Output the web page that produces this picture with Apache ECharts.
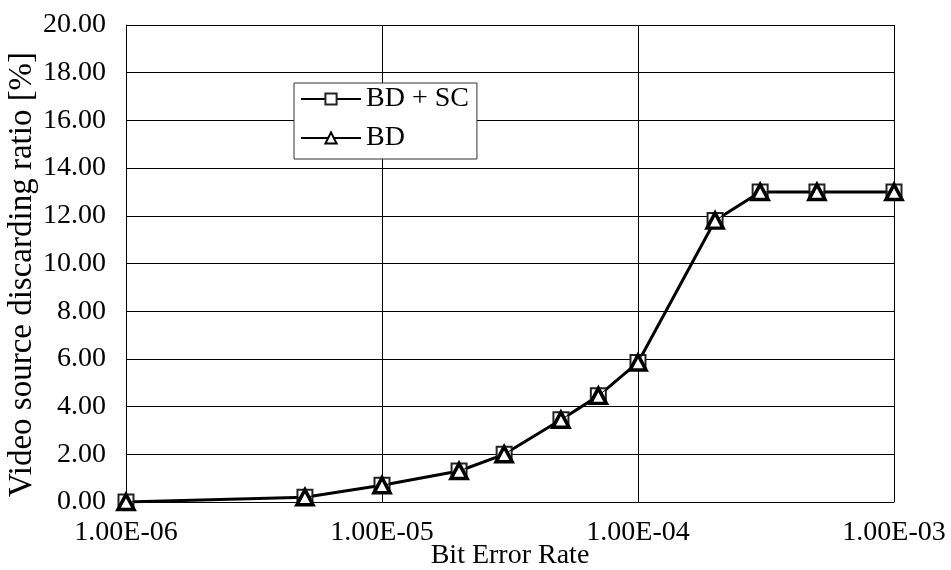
<!DOCTYPE html>
<html>
<head>
<meta charset="utf-8">
<script src="https://cdn.jsdelivr.net/npm/echarts@6/dist/echarts.min.js"></script>
<style>
  html, body { margin: 0; padding: 0; background: #fff; }
  #main { width: 951px; height: 570px; }
</style>
</head>
<body>
<div id="main"></div>
<script>
// bit error rate on x, discarding ratio (%) on y
var berValues = [1e-6, 5e-6, 1e-5, 2e-5, 3e-5, 5e-5, 7e-5, 1e-4, 2e-4, 3e-4, 5e-4, 1e-3];
var bdScRatio = [0.0, 0.2, 0.7, 1.3, 2.0, 3.45, 4.45, 5.85, 11.8, 13.0, 13.0, 13.0];
var bdRatio   = [0.0, 0.2, 0.7, 1.3, 2.0, 3.45, 4.45, 5.85, 11.8, 13.0, 13.0, 13.0];
var seriesNames = ['BD + SC', 'BD'];

var font = 'Liberation Serif';

function pairs(xs, ys) {
    return xs.map(function (x, i) { return [x, ys[i]]; });
}

function fmtExp(v) {
    // 1.00E-06 style like the spreadsheet
    var s = v.toExponential(2).toUpperCase();
    return s.replace(/E([+-])(\d)$/, 'E$10$2');
}

var myChart = echarts.init(document.getElementById('main'));

option = {
    backgroundColor: '#fff',
    animation: false,
    grid: {
        left: 126,
        right: 57,
        top: 25,
        bottom: 68,
        containLabel: false,
        outerBoundsMode: 'none'
    },
    legend: {
        left: 294,
        top: 83,
        orient: 'vertical',
        data: seriesNames,
        itemWidth: 60,
        itemHeight: 14,
        itemGap: 11,
        padding: [2, 8, 7, 6],
        borderColor: '#333',
        borderWidth: 1,
        backgroundColor: '#fff',
        textStyle: {
            fontFamily: font,
            fontSize: 28,
            color: '#000'
        }
    },
    xAxis: {
        type: 'log',
        logBase: 10,
        min: 1e-6,
        max: 1e-3,
        name: 'Bit Error Rate',
        nameLocation: 'middle',
        nameGap: 40,
        nameMoveOverlap: false,
        nameTextStyle: { fontFamily: font, fontSize: 28, color: '#000' },
        axisLine: { lineStyle: { color: '#000', width: 1 } },
        axisTick: { show: false },
        minorTick: { show: false },
        axisLabel: {
            fontFamily: font,
            fontSize: 28,
            color: '#000',
            margin: 17,
            formatter: function (v) { return fmtExp(v); }
        },
        splitLine: { show: true, lineStyle: { color: '#000', width: 1 } }
    },
    yAxis: {
        type: 'value',
        min: 0,
        max: 20,
        interval: 2,
        name: 'Video source discarding ratio [%]',
        nameLocation: 'middle',
        nameGap: 87,
        nameMoveOverlap: false,
        nameTextStyle: { fontFamily: font, fontSize: 33, color: '#000', padding: [0, 22, 0, 0] },
        axisLine: { show: true, lineStyle: { color: '#000', width: 1 } },
        axisTick: { show: false },
        axisLabel: {
            fontFamily: font,
            fontSize: 28,
            color: '#000',
            margin: 20,
            formatter: function (v) { return v.toFixed(2); }
        },
        splitLine: { show: true, lineStyle: { color: '#000', width: 1 } }
    },
    series: [
        {
            name: seriesNames[0],
            type: 'line',
            data: pairs(berValues, bdScRatio),
            symbol: 'rect',
            symbolSize: 15,
            showAllSymbol: true,
            lineStyle: { color: '#000', width: 3 },
            itemStyle: { color: '#fff', borderColor: '#222', borderWidth: 2 },
            z: 2
        },
        {
            name: seriesNames[1],
            type: 'line',
            data: pairs(berValues, bdRatio),
            symbol: 'triangle',
            symbolSize: [16, 15],
            showAllSymbol: true,
            lineStyle: { color: '#000', width: 1 },
            itemStyle: { color: '#fff', borderColor: '#000', borderWidth: 3.5 },
            z: 3
        }
    ]
};

myChart.setOption(option);
</script>
</body>
</html>
